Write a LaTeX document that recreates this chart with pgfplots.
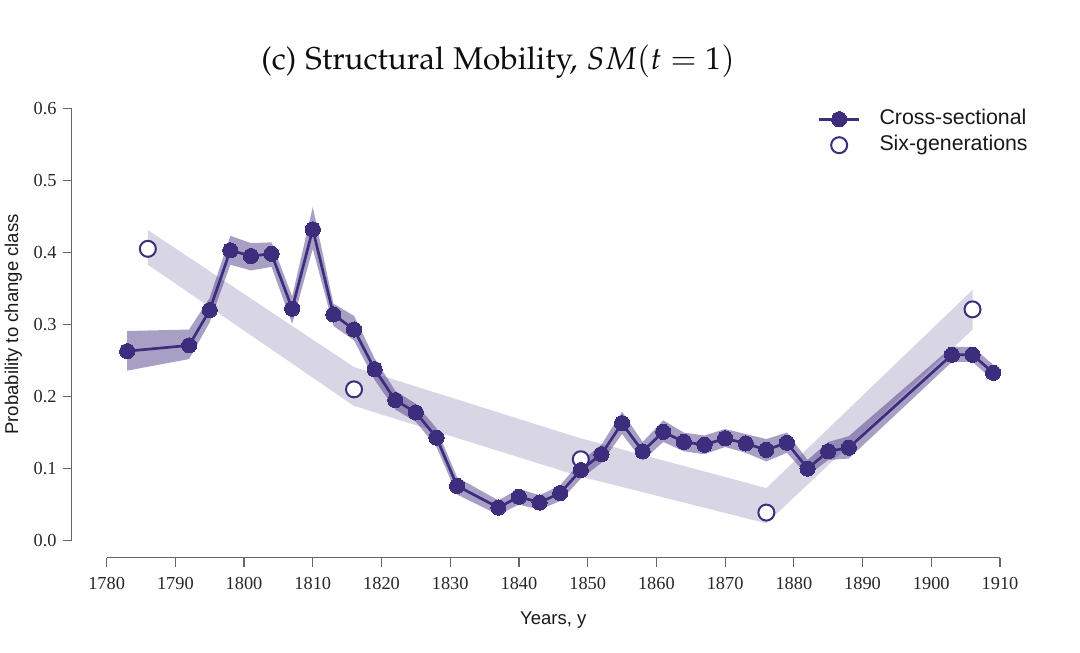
\documentclass[border=0pt]{standalone}
\usepackage{mathpazo}
\usepackage[no-math]{fontspec}
\setmainfont{Liberation Serif}
\newfontfamily\arial{Liberation Sans}
\usepackage{pgfplots}
\usepackage{pgfplotstable}
\pgfplotsset{compat=1.18}
\usepgfplotslibrary{fillbetween}
\definecolor{pur}{RGB}{60,45,125}

\pgfplotstableread{
yr v lo hi
1783 0.263 0.236 0.291
1792 0.271 0.252 0.293
1795 0.320 0.303 0.337
1798 0.403 0.383 0.423
1801 0.395 0.375 0.413
1804 0.398 0.380 0.414
1807 0.322 0.301 0.339
1810 0.432 0.405 0.463
1813 0.314 0.298 0.329
1816 0.293 0.278 0.312
1819 0.238 0.223 0.253
1822 0.195 0.182 0.208
1825 0.178 0.165 0.190
1828 0.143 0.130 0.156
1831 0.076 0.064 0.088
1837 0.046 0.036 0.056
1840 0.061 0.050 0.072
1843 0.053 0.043 0.063
1846 0.066 0.055 0.077
1849 0.098 0.086 0.110
1852 0.120 0.108 0.133
1855 0.163 0.148 0.179
1858 0.124 0.111 0.137
1861 0.151 0.137 0.167
1864 0.137 0.124 0.150
1867 0.133 0.120 0.146
1870 0.142 0.130 0.155
1873 0.135 0.122 0.148
1876 0.126 0.110 0.141
1879 0.136 0.122 0.150
1882 0.100 0.090 0.112
1885 0.124 0.112 0.137
1888 0.129 0.114 0.145
1903 0.258 0.248 0.269
1906 0.258 0.248 0.269
1909 0.233 0.223 0.244
}\cross

\pgfplotstableread{
yr v lo hi
1786 0.405 0.383 0.431
1816 0.210 0.187 0.241
1849 0.113 0.089 0.142
1876 0.039 0.024 0.073
1906 0.321 0.293 0.348
}\sixg

\begin{document}
\begin{tikzpicture}
\begin{axis}[
  scale only axis, width=464.15bp, height=224.7bp,
  xmin=1774.92, xmax=1910, ymin=-0.02359, ymax=0.6,
  axis lines*=left, axis line style={draw=none},
  clip=false,
  xtick={1780,1790,...,1910},
  ytick={0,0.1,0.2,0.3,0.4,0.5,0.6},
  tick align=outside, major tick length=4.5bp,
  tick style={black!60, line width=0.6bp},
  /pgf/number format/assume math mode=true,
  xticklabel style={font=\fontsize{9.2}{10}\selectfont, text=black!85, yshift=-2bp, /pgf/number format/set thousands separator={}},
  yticklabel style={font=\fontsize{9.2}{10}\selectfont, text=black!85, xshift=0.5bp, /pgf/number format/.cd, fixed, fixed zerofill, precision=1},
  legend style={at={(axis cs:1883.43,0.6)}, anchor=north west, draw=none, fill=none,
    font=\arial\fontsize{10.7}{12}\selectfont, text=black!90, inner sep=0pt,
    nodes={inner sep=0pt, text height=8bp, text depth=2.5bp}, row sep=2.5bp,
    column sep=9.5bp},
  legend cell align=left,
  legend image code/.code={\draw[mark repeat=2,mark phase=2,#1] plot coordinates {(0bp,0bp) (10bp,0bp) (20bp,0bp)};},
]
\addplot[name path=su, draw=none, forget plot] table[x=yr,y=hi]{\sixg};
\addplot[name path=sl, draw=none, forget plot] table[x=yr,y=lo]{\sixg};
\addplot[fill=pur, fill opacity=0.2, draw=none, forget plot] fill between[of=su and sl];
\addplot[name path=cu, draw=none, forget plot] table[x=yr,y=hi]{\cross};
\addplot[name path=cl, draw=none, forget plot] table[x=yr,y=lo]{\cross};
\addplot[fill=pur, fill opacity=0.45, draw=none, forget plot] fill between[of=cu and cl];
\addplot[only marks, mark=*, mark size=4bp, mark options={draw=pur, fill=white, line width=1bp}, forget plot] table[x=yr,y=v]{\sixg};
\addplot[pur, line width=1.35bp, mark=*, mark size=3.8bp, mark options={fill=pur, draw=pur, line width=0bp}] table[x=yr,y=v]{\cross};
\addlegendentry{Cross-sectional}
\addlegendimage{only marks, mark=*, mark size=4bp, mark options={draw=pur, fill=white, line width=1bp}}
\addlegendentry{Six-generations}
\draw[black!60, line width=0.6bp] (axis cs:1780,-0.02359) -- (axis cs:1910,-0.02359);
\draw[black!60, line width=0.6bp] (axis cs:1774.92,0) -- (axis cs:1774.92,0.6);
\node[anchor=base, text=black!95, font=\fontsize{15.8}{18}\selectfont] at (axis cs:1836.96,0.6545)
  {\fontencoding{OT1}\fontfamily{pplx}\selectfont (c) Structural Mobility, $SM(t=1)$};
\node[anchor=base, font=\arial\fontsize{9.3}{11}\selectfont, text=black!90] at (axis cs:1845,-0.116) {Years, y};
\node[anchor=base, rotate=90, font=\arial\fontsize{9.3}{11}\selectfont, text=black!90] at (axis cs:1767.12,0.3) {Probability to change class};
\coordinate (ll) at (rel axis cs:0,0);
\coordinate (ur) at (rel axis cs:1,1);
\end{axis}
\pgfresetboundingbox
\path[use as bounding box] ([xshift=-35.85bp,yshift=-47.65bp]ll) rectangle ([xshift=40bp,yshift=54.15bp]ur);
\end{tikzpicture}
\end{document}
